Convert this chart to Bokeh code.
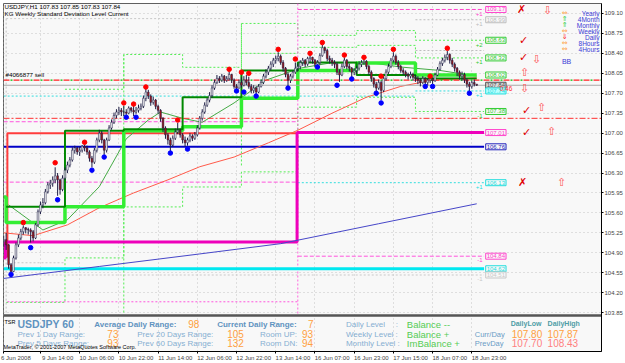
from bokeh.plotting import figure
from bokeh.models import Range1d, FixedTicker, Label, ColumnDataSource, PrintfTickFormatter
from bokeh.embed import file_html
from bokeh.resources import INLINE

# ---------------- data ----------------
close = [
    105.13,
    105.04, 104.69, 104.57, 104.81, 105.04, 105.16, 105.27, 105.34, 105.31, 105.30,
    105.27, 105.16, 105.39, 105.62, 105.74, 105.78, 105.97, 106.09, 106.12, 106.18,
    106.25, 106.18, 106.01, 106.21,
    106.35, 106.44, 106.53, 106.70, 106.74, 106.67, 106.70, 106.77, 106.74, 106.67,
    106.56, 106.49, 106.70, 106.88, 107.00, 106.88, 106.70, 106.88, 107.09, 107.19,
    107.31, 107.37, 107.40, 107.37,
    107.37, 107.35, 107.44, 107.40, 107.37, 107.40, 107.44, 107.47, 107.61, 107.72,
    107.65, 107.54, 107.58, 107.47, 107.40, 107.26, 107.09, 106.97, 106.88, 106.79,
    106.91, 107.02, 107.05, 106.97,
    106.88, 106.83, 106.88, 106.95, 106.91, 106.97, 107.09, 107.26, 107.37, 107.49,
    107.58, 107.66, 107.79, 107.89, 107.96, 107.93, 108.00, 107.93, 107.96, 108.03,
    107.93, 107.82, 107.79, 107.89,
    107.84, 107.93, 107.89, 107.82, 107.75, 107.79, 107.72, 107.82, 107.89, 108.00,
    108.07, 108.14, 108.21, 108.28, 108.31, 108.35, 108.24, 108.14, 108.03, 107.93,
    108.00, 108.07, 108.14,
    108.17, 108.24, 108.28, 108.21, 108.31, 108.33, 108.28, 108.21, 108.24, 108.36,
    108.50, 108.45, 108.31, 108.28, 108.24, 108.21, 108.07, 108.02, 108.17, 108.28,
    108.17, 108.14, 108.07, 108.10,
    108.14, 108.21, 108.24, 108.26, 108.17, 108.07, 107.96, 107.86, 107.79, 107.89,
    107.75, 107.96, 108.07, 108.17, 108.28, 108.35, 108.24, 108.17, 108.10, 108.07,
    108.03, 108.00, 108.03, 107.98,
    107.96, 107.93, 107.89, 107.96, 107.89, 107.93, 107.95, 107.92, 108.02, 108.12,
    108.22, 108.28, 108.33, 108.38, 108.28, 108.21, 108.14, 108.07, 108.00, 108.03,
    107.93, 107.86, 107.82, 107.89, 107.86, 107.84]
high = [
    105.20,
    105.25, 105.05, 104.72, 104.85, 105.08, 105.22, 105.32, 105.38, 105.35, 105.34,
    105.33, 105.30, 105.42, 105.66, 105.80, 105.86, 106.02, 106.14, 106.18, 106.24,
    106.40, 106.30, 106.20, 106.26,
    106.40, 106.50, 106.58, 106.75, 106.78, 106.76, 106.76, 106.79, 106.80, 106.78,
    106.70, 106.60, 106.74, 106.92, 107.06, 107.04, 106.90, 106.92, 107.14, 107.24,
    107.36, 107.42, 107.46, 107.44,
    107.48, 107.42, 107.47, 107.46, 107.48, 107.46, 107.50, 107.52, 107.66, 107.78,
    107.76, 107.68, 107.64, 107.60, 107.50, 107.42, 107.28, 107.12, 107.00, 106.92,
    106.96, 107.08, 107.18, 107.08,
    107.00, 106.94, 106.92, 107.00, 106.98, 107.02, 107.14, 107.30, 107.42, 107.54,
    107.62, 107.72, 107.84, 107.94, 108.02, 108.00, 108.04, 108.02, 108.00, 108.08,
    108.04, 107.96, 107.86, 107.94,
    107.98, 108.00, 108.02, 107.99, 107.86, 107.84, 107.82, 107.86, 107.94, 108.04,
    108.12, 108.18, 108.26, 108.32, 108.36, 108.42, 108.38, 108.28, 108.16, 108.06,
    108.04, 108.10, 108.24,
    108.22, 108.28, 108.32, 108.30, 108.34, 108.36, 108.34, 108.30, 108.28, 108.40,
    108.55, 108.52, 108.48, 108.36, 108.32, 108.28, 108.24, 108.12, 108.22, 108.33,
    108.30, 108.22, 108.16, 108.14,
    108.18, 108.26, 108.28, 108.30, 108.28, 108.20, 108.10, 107.98, 107.90, 107.94,
    107.92, 108.00, 108.12, 108.22, 108.32, 108.42, 108.38, 108.28, 108.20, 108.14,
    108.10, 108.06, 108.08, 108.06,
    108.02, 108.00, 107.96, 108.00, 107.98, 107.96, 107.97, 107.98, 108.06, 108.16,
    108.26, 108.32, 108.38, 108.44, 108.40, 108.32, 108.24, 108.16, 108.10, 108.08,
    108.06, 107.96, 107.90, 107.92, 107.94, 107.85]
low = [
    105.00,
    104.95, 104.62, 104.55, 104.56, 104.78, 105.00, 105.12, 105.22, 105.24, 105.22,
    105.08, 105.10, 105.14, 105.36, 105.58, 105.68, 105.75, 105.94, 106.02, 106.06,
    106.12, 105.90, 105.92, 105.98,
    106.18, 106.30, 106.40, 106.50, 106.64, 106.62, 106.60, 106.66, 106.68, 106.62,
    106.50, 106.40, 106.46, 106.66, 106.84, 106.82, 106.62, 106.66, 106.86, 107.06,
    107.16, 107.26, 107.32, 107.30,
    107.30, 107.32, 107.33, 107.36, 107.30, 107.34, 107.36, 107.40, 107.44, 107.56,
    107.60, 107.48, 107.50, 107.42, 107.34, 107.20, 107.02, 106.90, 106.80, 106.68,
    106.76, 106.88, 106.98, 106.92,
    106.82, 106.76, 106.78, 106.84, 106.86, 106.88, 106.94, 107.06, 107.22, 107.34,
    107.46, 107.54, 107.62, 107.76, 107.86, 107.88, 107.90, 107.88, 107.90, 107.92,
    107.88, 107.78, 107.76, 107.78,
    107.80, 107.82, 107.84, 107.78, 107.70, 107.70, 107.68, 107.70, 107.80, 107.86,
    107.96, 108.02, 108.10, 108.16, 108.22, 108.26, 108.20, 108.08, 107.98, 107.82,
    107.88, 107.96, 108.04,
    108.08, 108.12, 108.18, 108.16, 108.18, 108.24, 108.22, 108.16, 108.19, 108.20,
    108.34, 108.40, 108.26, 108.22, 108.18, 108.14, 108.02, 107.90, 108.00, 108.14,
    108.12, 108.08, 107.98, 108.02,
    108.04, 108.10, 108.16, 108.20, 108.12, 108.02, 107.90, 107.80, 107.73, 107.76,
    107.58, 107.72, 107.92, 108.04, 108.14, 108.24, 108.20, 108.12, 108.06, 108.02,
    107.98, 107.94, 107.96, 107.92,
    107.90, 107.86, 107.82, 107.86, 107.85, 107.84, 107.88, 107.86, 107.90, 108.00,
    108.10, 108.18, 108.24, 108.28, 108.22, 108.16, 108.08, 108.00, 107.94, 107.92,
    107.88, 107.80, 107.74, 107.78, 107.82, 107.83]
first_open = 105.10
header_ohlc = [107.83, 107.85, 107.83, 107.84]

frac_up_bar = [8, 21, 33, 49, 53, 58, 71, 92, 97, 100, 112, 119, 125, 130, 139, 147, 154, 159, 174, 181]
frac_up_price = [105.43, 106.48, 106.84, 107.53, 107.51, 107.81, 107.23, 108.12, 108.07, 108.05,
                 108.47, 108.30, 108.40, 108.59, 108.37, 108.33, 108.00, 108.47, 108.00, 108.49]
frac_dn_bar = [3, 11, 22, 36, 41, 50, 54, 68, 75, 95, 98, 103, 116, 128, 136, 142, 152, 154, 172, 175, 190]
frac_dn_price = [104.52, 104.99, 105.83, 106.35, 106.58, 107.28, 107.28, 106.65, 106.72, 107.74, 107.72,
                 107.65, 107.79, 108.16, 107.84, 107.95, 107.70, 107.53, 107.82, 107.82, 107.70]

ma_red_bar = [0, 12, 26, 39, 53, 67, 80, 94, 108, 120, 134, 148, 162, 175, 193]
ma_red = [105.25, 105.20, 105.39, 105.69, 105.95, 106.18, 106.41, 106.58, 106.83, 107.05, 107.35,
          107.63, 107.82, 107.93, 107.97]
ma_blue_bar = [0, 39, 80, 113, 153, 193]
ma_blue = [104.45, 104.66, 104.88, 105.06, 105.41, 105.76]
ma_green_bar = [2, 16, 26, 39, 50, 59, 64, 73, 81, 94, 107, 121, 133, 149, 162, 178, 193]
ma_green = [105.74, 105.30, 105.48, 106.06, 106.90, 107.23, 107.37, 107.26, 107.19, 107.53, 107.93,
            108.14, 108.23, 108.24, 108.16, 108.10, 108.00]

day_start = [1, 25, 49, 73, 97, 120, 144, 168, 193]
box_high = [105.71, 107.04, 107.07, 107.63, 108.10, 108.24, 108.02, 107.96]
box_low_prev = 105.88
box_low = [105.43, 105.71, 107.04, 107.11, 107.61, 108.10, 108.23, 108.02]

sd_up2_start = [25, 49, 73, 97, 120, 144, 168, 196]
sd_up2 = [107.77, 108.38, 108.155, 108.925, 108.715, 108.80, 108.63]
sd_up1_start = [97, 120, 144, 168, 196]
sd_up1 = [108.40, 108.505, 108.54, 108.32]
sd_dn1_start = [1, 25, 49, 73, 97, 120, 144, 168, 196]
sd_dn1 = [104.03, 104.81, 105.705, 106.055, 106.32, 107.455, 107.63, 107.38]

level_prices = [109.17, 108.99, 108.63, 108.32, 108.02, 107.84, 107.74, 107.38, 107.01, 106.76, 106.13, 104.84, 104.62, 104.51]
level_marks = ["+1", "+1", "+2", "+1", "", "", "+1", "-1", "", "", "+1", "-1", "", "-1"]
sell_price = 107.93
stop_price = 107.26
order_text = "#4066877 sell"
bid_price = 107.84
week_low_prev = [104.83, 107.00]
mag_prev = [104.81, 105.09, 107.01]
pip_text = "0.46"

time_label_bar = [0, 15, 31, 47, 63, 79, 95, 111, 127, 143, 159, 175, 191]
time_labels = ["6 Jun 2008", "9 Jun 14:00", "10 Jun 06:00", "10 Jun 22:00", "11 Jun 14:00", "12 Jun 06:00",
               "12 Jun 22:00", "13 Jun 14:00", "16 Jun 07:00", "16 Jun 23:00", "17 Jun 15:00",
               "18 Jun 07:00", "18 Jun 23:00"]
price_ticks = [109.10, 108.75, 108.40, 108.05, 107.70, 107.35, 107.00, 106.65, 106.30, 105.95,
               105.60, 105.25, 104.90, 104.55, 104.20, 103.85]
sub_ticks = ["-9000000", "9000000"]

tf_names = ["Yearly", "4Month", "Monthly", "Weekly", "Daily", "8Hours", "4Hours"]
tf_signal = ["⇔", "⇑", "⇑", "⇔", "⇓", "⇔", "⇔"]

tsr_symbol = "USDJPY 60"
avg_daily_range = 98
cur_daily_range = 7
prev_short = [("Prev 1 Day Range:", 73), ("Prev 5 Days Range:", 93)]
prev_long = [("Prev 20 Days Range:", 105), ("Prev 60 Days Range:", 132)]
room = [("Room UP:", 93), ("Room DN:", 94)]
level_state = [("Daily Level", "Balance --"), ("Weekly Level :", "Balance +"), ("Monthly Level :", "ImBalance +")]
day_rows = [("Curr/Day", 107.80, 107.87), ("PrevDay", 107.70, 108.43)]

# ---------------- geometry helpers (pixel -> data) ----------------
BAR_PX, BAR0_PX = 2.455, 3.2
PX_PRICE, PRICE0 = 0.0175, 109.3275


def X(px):
    return (px - BAR0_PX) / BAR_PX


def Y(py):
    return PRICE0 - PX_PRICE * py


F = "Liberation Sans"
p = figure(width=625, height=363, output_backend="svg", toolbar_location=None,
           x_range=Range1d(X(3), X(602)), y_range=Range1d(Y(352), Y(3)),
           y_axis_location="right", min_border_left=3, min_border_right=23,
           min_border_top=3, min_border_bottom=11,
           background_fill_color="#f8f8f8", border_fill_color="white")
p.outline_line_color = "#606060"

# axes
ya = p.yaxis[0]
ya.ticker = FixedTicker(ticks=price_ticks)
ya.formatter = PrintfTickFormatter(format="%.2f")
ya.major_label_text_font = F
ya.major_label_text_font_size = "6px"
ya.major_tick_out = 2
ya.major_tick_in = 0
ya.minor_tick_out = 0
ya.major_label_standoff = 1
ya.axis_line_color = "black"

xa = p.xaxis[0]
centers = [5] + [b + 7 for b in time_label_bar[1:]]
xa.ticker = FixedTicker(ticks=centers, minor_ticks=time_label_bar)
xa.major_label_overrides = {c: t for c, t in zip(centers, time_labels)}
xa.major_tick_out = 0
xa.major_tick_in = 0
xa.major_tick_line_color = None
xa.minor_tick_out = 2
xa.minor_tick_in = 0
xa.minor_tick_line_color = "black"
xa.major_label_standoff = 1
xa.major_label_text_font = F
xa.major_label_text_font_size = "6px"
xa.axis_line_color = "black"

p.xgrid.ticker = FixedTicker(ticks=time_label_bar)
for g in (p.xgrid[0], p.ygrid[0]):
    g.grid_line_color = "#c4c4c4"
    g.grid_line_dash = "1 3"

XL, XR = X(3), X(602)
TOP, SEP = Y(3), Y(315)

# ---- dotted std-dev staircases & guide lines ----
def stair(starts, vals, **kw):
    p.step(starts, vals + [vals[-1]], mode="after", **kw)


stair(sd_up2_start, sd_up2, line_color="#55ee55", line_dash="2 2", line_width=1)
stair(sd_up1_start, sd_up1, line_color="#55ee55", line_dash="2 2", line_width=1)
stair(sd_dn1_start, sd_dn1, line_color="#55ee55", line_dash="2 2", line_width=1)
p.line([49, 49], [108.38, SEP], line_color="#55ee55", line_dash="2 2")
p.line([97, 97], [108.925, 106.41], line_color="#55ee55", line_dash="2 2")
p.line([1, 1], [109.01, SEP], line_color="#c0c0c0", line_dash="2 2")

dotted = [  # price, start bar, end bar, colour, dash
    (109.17, 120, 196, "#ff44cc", "4 2"),
    (108.99, 168, 196, "#bdbdbd", "2 2"),
    (108.45, 168, 196, "#bdbdbd", "2 2"),
    (109.01, 1, 97, "#c8c8c8", "2 2"),
    (104.51, 0, 196, "#c8c8c8", "2 2"),
    (104.725, 4, 25, "#c8c8c8", "2 2"),
    (107.65, 0, 168, "#33dddd", "2 2"),
    (107.74, 168, 196, "#33dddd", "2 2"),
    (107.20, 0, 120, "#ff55dd", "4 2"),
    (106.14, 0, 120, "#ff55dd", "4 2"),
    (106.13, 120, 196, "#33dddd", "2 2"),
    (104.04, 1.5, 120, "#ff55dd", "2 2"),
    (104.84, 120, 196, "#ff55dd", "4 2"),
]
for pr, a, b, c, d in dotted:
    p.line([a, b], [pr, pr], line_color=c, line_dash=d, line_width=1)
p.line([120, 120], [TOP, SEP], line_color="#ff66dd", line_dash="2 2", line_width=1)

# ---- solid levels ----
p.line([0, 196], [106.76, 106.76], line_color="#0000c8", line_width=2)
p.line([0, 196], [104.62, 104.62], line_color="#00e8f0", line_width=3)
p.step([XL, 1.5, 119.7], week_low_prev + [week_low_prev[-1]], mode="after", line_color="#ff3c3c", line_width=2)
p.step([XL, 0.7, 119.7, 196], mag_prev + [mag_prev[-1]], mode="after", line_color="#ee00bb", line_width=3)

# ---- moving averages ----
p.line(ma_blue_bar, ma_blue, line_color="#4646c8", line_width=1)
p.line(ma_red_bar, ma_red, line_color="#ff5a4a", line_width=1)
p.line(ma_green_bar, ma_green, line_color="#44aa44", line_width=1)

# ---- daily boxes ----
stair([XL] + day_start, [box_low_prev] + box_low + [box_low[-1]], line_color="#33ee33", line_width=3.5)
stair(day_start, box_high, line_color="#008800", line_width=2)

# ---- order / bid lines ----
p.line([XL, XR], [bid_price] * 2, line_color="#a8a8a8", line_width=1)
p.line([XL, XR], [sell_price] * 2, line_color="#ff2020", line_dash="6 4", line_width=1.2)
p.line([XL, XR], [sell_price] * 2, line_color="#00bb00", line_dash="2 8", line_dash_offset=-7, line_width=1.2)
p.line([XL, XR], [stop_price] * 2, line_color="#ff3030", line_dash="6 2 2 2", line_width=1)

# ---- candles ----
opens = [first_open] + close[:-1]
bars = list(range(len(close)))
src = ColumnDataSource(dict(
    x=bars, high=high, low=low,
    top=[max(o, c) for o, c in zip(opens, close)],
    bot=[min(o, c) for o, c in zip(opens, close)],
    col=["#f4f4f4" if c >= o else "#a01818" for o, c in zip(opens, close)]))
p.segment(x0="x", y0="low", x1="x", y1="high", source=src, line_color="#1c1c44", line_width=1)
p.vbar(x="x", width=0.7, top="top", bottom="bot", source=src, fill_color="col",
       line_color="#1c1c44", line_width=0.5)

p.scatter(frac_up_bar, frac_up_price, size=4.5, color="#ff0000")
p.scatter(frac_dn_bar, frac_dn_price, size=4.5, color="#0000ff")

# sub-window separator
p.line([XL, XR], [Y(316)] * 2, line_color="#555555", line_width=2.5)


def lab(text, px, y, size, color, bold=False, align="left", font=F, **kw):
    p.add_layout(Label(x=X(px), y=y, text=text, text_font=font, text_font_size=f"{size}px",
                       text_color=color, text_font_style="bold" if bold else "normal",
                       text_align=align, text_baseline="middle", **kw))


# ---- level boxes at right ----
lvl_style = {109.17: ("#ff44cc", "#f8f8f8"), 108.99: ("#bdbdbd", "#f8f8f8"), 108.63: ("#33cc33", "#f8f8f8"),
             108.32: ("#33cc33", "#f8f8f8"), 108.02: ("#33cc33", "#f8f8f8"), 107.84: ("#505050", "#d8d8d8"),
             107.74: ("#22dddd", "#b8ffff"), 107.38: ("#33cc33", "#f8f8f8"), 107.01: ("#ff44cc", "#f8f8f8"),
             106.76: ("#2222bb", "#f8f8f8"), 106.13: ("#22dddd", "#f8f8f8"), 104.84: ("#ff44cc", "#f8f8f8"),
             104.62: ("#22dddd", "#f8f8f8"), 104.51: ("#c8c8c8", "#f8f8f8")}
for pr, mk in zip(level_prices, level_marks):
    c, fill = lvl_style[pr]
    lab(f"{pr:.2f}", 486, pr, 6, c, border_line_color=c, background_fill_color=fill, padding=1)
    if mk:
        lab(mk, 483, pr - 0.075, 6, c, align="right")

# current price on the axis, and the sub-window scale labels
lab(f"{bid_price:.2f}", 602.5, bid_price, 6, "white", background_fill_color="black", padding=1)
lab(sub_ticks[0], 603, Y(321), 5, "black")
lab(sub_ticks[1], 604, Y(339), 5, "black")
lab(pip_text, 500, Y(88.5), 6.5, "#ff3030")

# checks / arrows next to levels
marks = [("✗", 522, 109.17, "#e00000"), ("⇩", 548, 109.15, "#ff5050"),
         ("✓", 524, 108.63, "#e00000"), ("✓", 524, 108.32, "#e00000"), ("⇩", 537, 108.30, "#ff5050"),
         ("⇧", 525, 108.07, "#ff5050"), ("⇩", 525, 107.78, "#ff5050"),
         ("✓", 527, 107.40, "#e00000"), ("⇧", 542, 107.45, "#ff5050"),
         ("✓", 527, 107.01, "#e00000"), ("⇧", 552, 107.02, "#ff5050"),
         ("✗", 523, 106.13, "#e00000"), ("⇧", 562, 106.14, "#ff5050")]
for t, px, pr, c in marks:
    lab(t, px, pr, 11, c, bold=(t in "✓✗"), align="center", font="DejaVu Sans")

# timeframe legend
sig_col = {"⇔": "#ffa040", "⇑": "#33cc33", "⇓": "#ff3030"}
for k, (nm, sg) in enumerate(zip(tf_names, tf_signal)):
    py = 13 + 6 * k
    lab(nm, 600, Y(py), 6.5, "#3b3bd6", align="right")
    lab(sg, 565, Y(py), 7, sig_col[sg], align="center", font="DejaVu Sans")
lab("BB", 567, Y(61), 7, "#3b3bd6", align="center")

# title texts
lab(f"USDJPY,H1  {header_ohlc[0]:.2f} {header_ohlc[1]:.2f} {header_ohlc[2]:.2f} {header_ohlc[3]:.2f}",
    4, Y(6.5), 6.2, "black")
lab("KG Weekly Standard Deviation Level Current", 4, Y(13.5), 6.2, "black")
lab(order_text, 5, Y(74.5), 6.2, "black")

# ---- TSR sub-window ----
HEAD, ROW, VAL, GRN = "#5f93c0", "#86afd2", "#ffa040", "#55cc55"
lab("TSR", 4, Y(322), 5.5, "black")
lab(tsr_symbol, 17, Y(324.5), 10.5, HEAD, bold=True)
lab("Average Daily Range:", 94, Y(324.5), 8, HEAD, bold=True)
lab(str(avg_daily_range), 188, Y(324.5), 10, VAL)
lab("Current Daily Range:", 217, Y(324.5), 8, HEAD, bold=True)
lab(str(cur_daily_range), 308, Y(324.5), 10, VAL)
for r, py in enumerate([334.5, 343.5]):
    lab(prev_short[r][0], 17, Y(py), 8, ROW)
    lab(str(prev_short[r][1]), 107, Y(py), 10, VAL)
    lab(prev_long[r][0], 137, Y(py), 8, ROW)
    lab(str(prev_long[r][1]), 227, Y(py), 10, VAL)
    lab(room[r][0], 260, Y(py), 8, ROW)
    lab(str(room[r][1]), 302, Y(py), 10, VAL)
lab("MetaTrader, © 2001-2007 MetaQuotes Software Corp.", 3, Y(347.5), 5.5, "black")
for r, py in enumerate([325, 334.5, 343.5]):
    lab(level_state[r][0], 346, Y(py), 8, ROW)
    lab(level_state[r][1], 407, Y(py), 9.5, GRN)
lab(":", 396, Y(325), 8, ROW)
lab("DailyLow", 511, Y(323.5), 7, "#4f9da6", bold=True)
lab("DailyHigh", 548, Y(323.5), 7, "#4f9da6", bold=True)
for r, py in enumerate([334.5, 343.5]):
    c = VAL if r == 0 else "#ff7f7f"
    lab(day_rows[r][0], 475, Y(py), 7.5, "#6a9cc6")
    lab(f"{day_rows[r][1]:.2f}", 512, Y(py), 10, c)
    lab(f"{day_rows[r][2]:.2f}", 548, Y(py), 10, c)

open("out.html", "w").write(file_html(p, INLINE))
